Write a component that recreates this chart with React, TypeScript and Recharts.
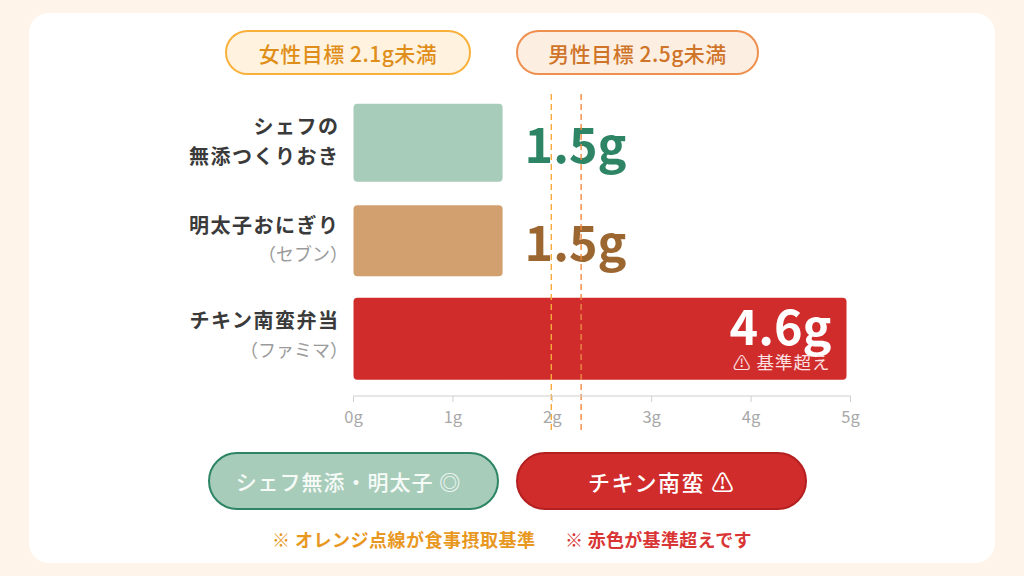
import React from "react";
import { BarChart, Bar, XAxis, YAxis, ReferenceLine } from "recharts";

const categories = ["シェフの無添つくりおき", "明太子おにぎり", "チキン南蛮弁当"];
const labelTop = ["シェフの", "明太子おにぎり", "チキン南蛮弁当"];
const labelBottom = ["無添つくりおき", "（セブン）", "（ファミマ）"];
const safeLengths = [1.5, 1.5, null];
const overLengths = [null, null, 4.96];
const valueLabels = ["1.5g", "1.5g", "4.6g"];
const ticks = [0, 1, 2, 3, 4, 5];
const femaleLine = 1.99;
const maleLine = 2.29;

const data = categories.map((name, i) => ({ name, safe: safeLengths[i], over: overLengths[i] }));

const FONT = '"Noto Sans CJK JP", "Noto Sans", sans-serif';
const rowHeights = [78, 71, 82];
const rowFills = ["#a8ccba", "#d2a06e", "#d12c2c"];
const valueColors = ["#2e8565", "#9c6630", "#ffffff"];
const topOffsets = [-18, -17, -20];
const bottomOffsets = [12, 12, 10];

const SafeBar = (p: any) => {
  if (p.payload.safe == null) return null;
  const cy = p.y + p.height / 2;
  const h = rowHeights[p.index];
  return (
    <g>
      <rect x={p.x} y={cy - h / 2} width={p.width} height={h} rx={4} fill={rowFills[p.index]} />
      <text x={p.x + p.width + 22} y={cy + 20} fontSize={48.5} fontWeight={600} fill={valueColors[p.index]} fontFamily={FONT}>
        {valueLabels[p.index]}
      </text>
    </g>
  );
};

const OverBar = (p: any) => {
  if (p.payload.over == null) return null;
  const cy = p.y + p.height / 2;
  const h = rowHeights[p.index];
  const right = p.x + p.width;
  return (
    <g>
      <rect x={p.x} y={cy - h / 2} width={p.width} height={h} rx={4} fill={rowFills[p.index]} />
      <text x={right - 15} y={cy + 6} textAnchor="end" fontSize={48.5} fontWeight={600} fill="#fff" fontFamily={FONT}>
        {valueLabels[p.index]}
      </text>
      <text x={right - 16} y={cy + 30} textAnchor="end" fontSize={17.5} letterSpacing={1} fill="#fbe3e3" fontFamily={FONT}>
        ⚠ 基準超え
      </text>
    </g>
  );
};

const RowTick = (p: any) => {
  const i = categories.indexOf(p.payload.value);
  const plain = i === 0;
  return (
    <g fontFamily={FONT}>
      <text x={339.5} y={p.y + topOffsets[i]} textAnchor="end" dominantBaseline="central" fontSize={20} fontWeight={700} letterSpacing={1.5} fill="#3a3a3a">
        {labelTop[i]}
      </text>
      <text
        x={plain ? 339.5 : 348}
        y={p.y + bottomOffsets[i]}
        textAnchor="end"
        dominantBaseline="central"
        fontSize={plain ? 20 : 18}
        fontWeight={plain ? 700 : 400}
        letterSpacing={plain ? 1.5 : 0}
        fill={plain ? "#3a3a3a" : "#9a9a9a"}
      >
        {labelBottom[i]}
      </text>
    </g>
  );
};

const longDash = (color: string) => (p: any) =>
  <line x1={p.x1} y1={p.y1 + 34} x2={p.x2} y2={p.y2} stroke={color} strokeWidth={1.4} strokeDasharray="6 4" />;

const pill = (x: number, y: number, w: number, h: number, bg: string, border: string, color: string, size: number, spacing: number, rightPad: number, text: string) => (
  <div
    style={{
      position: "absolute", left: x, top: y, width: w, height: h, boxSizing: "border-box",
      borderRadius: h / 2, background: bg, border: `2px solid ${border}`, color, paddingRight: rightPad,
      fontSize: size, fontWeight: 500, display: "flex", alignItems: "center", justifyContent: "center",
      fontFamily: FONT, letterSpacing: spacing,
    }}
  >
    {text}
  </div>
);

export default function App() {
  return (
    <div style={{ position: "fixed", left: 0, top: 0, width: 1024, height: 576, background: "#fef4ea", overflow: "hidden" }}>
      <div style={{ position: "absolute", left: 29, top: 13, width: 966, height: 550, background: "#fff", borderRadius: 20 }} />
      <div style={{ position: "absolute", left: 0, top: 0 }}>
        <BarChart
          width={1024}
          height={576}
          data={data}
          layout="vertical"
          margin={{ top: 94, right: 173.5, bottom: 150, left: 0 }}
          style={{ overflow: "visible" }}
        >
          <XAxis
            type="number"
            domain={[0, 5]}
            ticks={ticks}
            interval={0}
            tickFormatter={(v: number) => `${v}g`}
            height={30}
            tickSize={6}
            tickMargin={9}
            stroke="#cfcfcf"
            tick={{ fill: "#a8a8a8", fontSize: 16.5, fontFamily: FONT }}
          />
          <YAxis type="category" dataKey="name" width={353.5} padding={{ top: 0, bottom: 8 }} axisLine={false} tickLine={false} interval={0} tick={<RowTick />} />
          <Bar dataKey="safe" stackId="row" shape={<SafeBar />} isAnimationActive={false} />
          <ReferenceLine x={femaleLine} stroke="#f7a93a" shape={longDash("#f7a93a")} />
          <ReferenceLine x={maleLine} stroke="#ee8a45" shape={longDash("#ee8a45")} />
          <Bar dataKey="over" stackId="row" shape={<OverBar />} isAnimationActive={false} />
        </BarChart>
      </div>
      {pill(225, 30, 246, 45, "#fff3e0", "#f9b13c", "#e08e1a", 21, 0.5, 0, "女性目標 2.1g未満")}
      {pill(516, 30, 243, 45, "#fdeee2", "#ee9150", "#cf7428", 21, 0.5, 0, "男性目標 2.5g未満")}
      {pill(208, 452, 291, 58, "#a8ccba", "#2e8565", "#f6fbf8", 21, 1, 10, "シェフ無添・明太子 ◎")}
      {pill(516, 452, 291, 58, "#d12c2c", "#b42020", "#ffffff", 22, 1.5, 0, "チキン南蛮 ⚠")}
      <div style={{ position: "absolute", left: 272, top: 526, fontFamily: FONT, fontSize: 18, lineHeight: "26px", fontWeight: 700, color: "#e8981f", whiteSpace: "nowrap", letterSpacing: 0.5 }}>
        ※ オレンジ点線が食事摂取基準
      </div>
      <div style={{ position: "absolute", left: 565, top: 526, fontFamily: FONT, fontSize: 18, lineHeight: "26px", fontWeight: 700, color: "#d93535", whiteSpace: "nowrap", letterSpacing: 0.3 }}>
        ※ 赤色が基準超えです
      </div>
    </div>
  );
}
